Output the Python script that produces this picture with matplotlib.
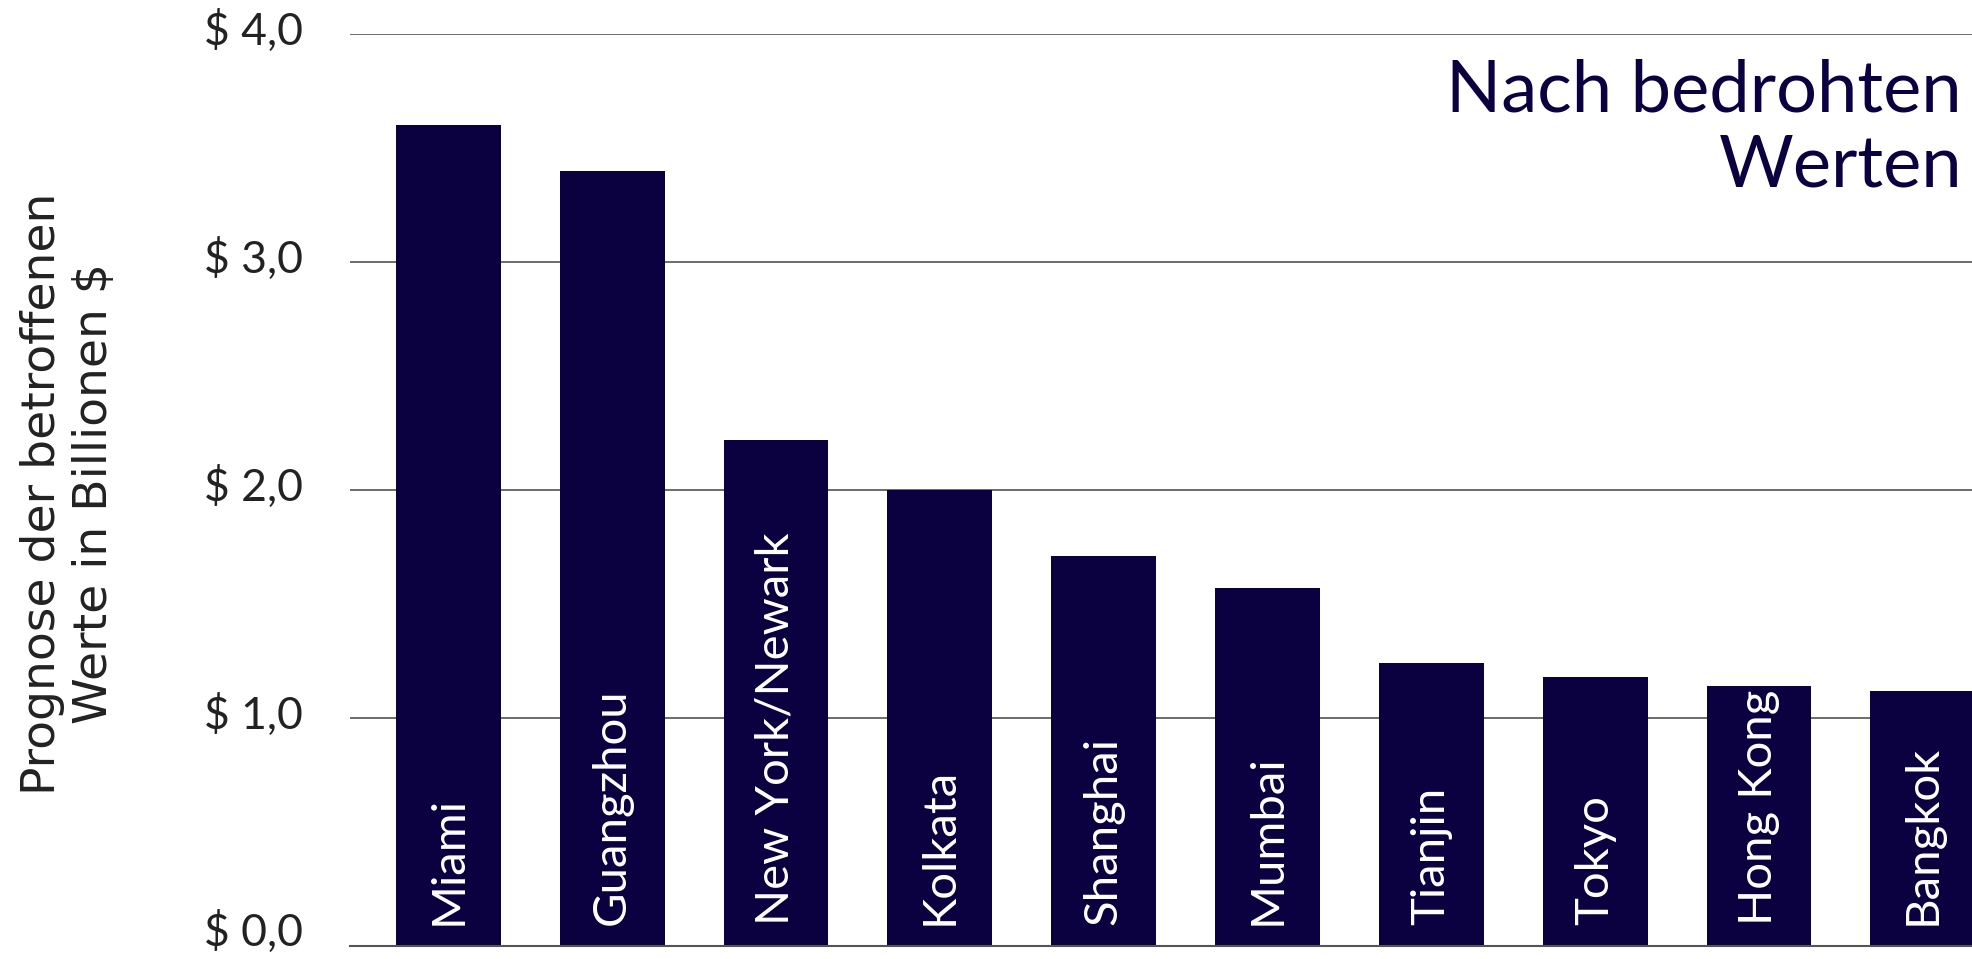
import matplotlib
matplotlib.use("Agg")
import matplotlib.pyplot as plt
import matplotlib.transforms as mtransforms

cities = ["Miami", "Guangzhou", "New York/Newark", "Kolkata", "Shanghai",
          "Mumbai", "Tianjin", "Tokyo", "Hong Kong", "Bangkok"]
values = [3.60, 3.40, 2.22, 2.00, 1.71, 1.57, 1.24, 1.18, 1.14, 1.12]
yticks = [0.0, 1.0, 2.0, 3.0, 4.0]
ytick_labels = ["$ 0,0", "$ 1,0", "$ 2,0", "$ 3,0", "$ 4,0"]
title = "Nach bedrohten\nWerten"
ylabel = "Prognose der betroffenen\nWerte in Billionen $"

BAR = "#0b0040"
W, H, DPI = 1972, 959, 100
fig = plt.figure(figsize=(W / DPI, H / DPI), dpi=DPI)
ax = fig.add_axes([350 / W, 1 - 946 / H, 1 - 350 / W, (946 - 34) / H])

x = list(range(len(cities)))
ax.bar(x, values, width=0.64, color=BAR, zorder=2)
ax.set_xlim(-0.6, 9.3)
ax.set_ylim(0, 4)

ax.set_yticks(yticks)
ax.set_yticklabels(ytick_labels, fontsize=32, color="#222222", family="Lato")
ax.tick_params(axis="y", length=0, pad=34)
for i, lab in enumerate(ax.get_yticklabels()):
    up = 13 if i == 0 else 5
    off = mtransforms.ScaledTranslation(0, up / 72, fig.dpi_scale_trans)
    lab.set_transform(lab.get_transform() + off)
ax.set_xticks([])
for s in ["top", "right", "left"]:
    ax.spines[s].set_visible(False)
ax.spines["bottom"].set_color("#555555")
ax.spines["bottom"].set_linewidth(1.5)
ax.grid(axis="y", color="#444444", linewidth=1.1, zorder=1)
ax.set_axisbelow(True)

for xi, name in zip(x, cities):
    ax.text(xi, 0.09, name, rotation=90, ha="center", va="bottom",
            color="white", fontsize=34, family="Lato", zorder=3)

fig.text(1962 / W, 1 - 58 / H, title, ha="right", va="top", fontsize=52,
         color=BAR, family="Lato", linespacing=1.2)

fig.text(69 / W, 1 - 494 / H, ylabel, rotation=90, ha="center", va="center",
         fontsize=34, color="#222222", family="Liberation Sans Narrow",
         linespacing=1.2)

fig.savefig("out.png", dpi=DPI)
